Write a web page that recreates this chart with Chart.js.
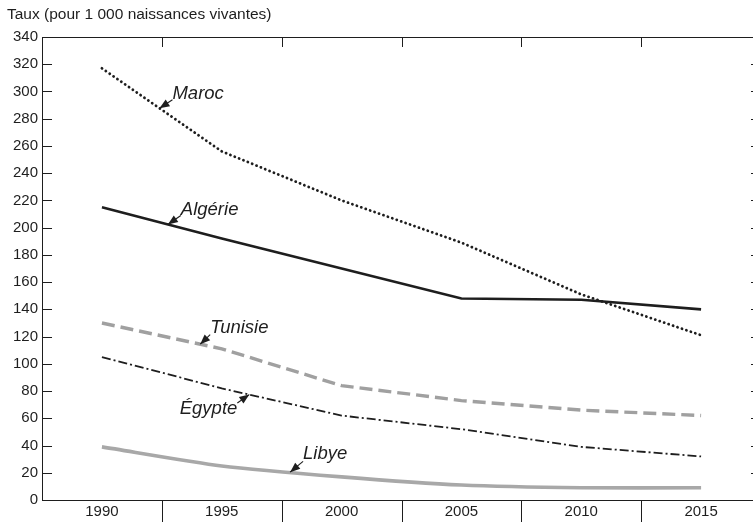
<!DOCTYPE html>
<html><head><meta charset="utf-8">
<script src="https://cdn.jsdelivr.net/npm/chart.js@4"></script>
<style>
html,body{margin:0;padding:0;background:#fff;overflow:hidden;}
#wrap{width:775px;height:522px;position:relative;}
</style></head>
<body><div id="wrap"><canvas id="c"></canvas></div>
<script>
const years = ['1990','1995','2000','2005','2010','2015'];
const maroc   = [317, 256, 220, 189, 151, 121];
const algerie = [215, 192, 170, 148, 147, 140];
const tunisie = [130, 111, 84, 73, 66, 62];
const egypte  = [105, 82, 62, 52, 39, 32];
const libye   = [39, 25, 17, 11, 9, 9];
const yMin = 0, yMax = 340, yStep = 20;
const title = 'Taux (pour 1 000 naissances vivantes)';
// annotation: series index, fractional category index for arrow tip
const labels = [
  {text:'Maroc',   ds:0, at:0.48, dx:13, dy:-14, align:'left'},
  {text:'Algérie', ds:1, at:0.55, dx:13, dy:-15, align:'left'},
  {text:'Tunisie', ds:2, at:0.82, dx:10, dy:-16, align:'left'},
  {text:'Égypte',  ds:3, at:1.23, dx:-12, dy:14, align:'right'},
  {text:'Libye',   ds:4, at:1.57, dx:13, dy:-18, align:'left'}
];
const INK = '#1e1e1e';
const FONT = '"Liberation Sans", Arial, sans-serif';

const framePlugin = {
  id:'frame',
  afterDraw(chart){
    const {ctx, chartArea:a, scales} = chart;
    const x = scales.x, y = scales.y;
    ctx.save();
    ctx.strokeStyle = INK; ctx.lineWidth = 1;
    ctx.strokeRect(Math.round(a.left)+0.5, Math.round(a.top)+0.5, Math.round(a.right-a.left), Math.round(a.bottom-a.top));
    ctx.beginPath();
    y.ticks.forEach(t=>{
      const py = Math.round(y.getPixelForValue(t.value))+0.5;
      ctx.moveTo(a.left, py); ctx.lineTo(a.left+10, py);
      ctx.moveTo(a.right, py); ctx.lineTo(a.right-10, py);
    });
    const n = years.length;
    for(let i=1;i<n;i++){
      const px = Math.round((x.getPixelForValue(i-1)+x.getPixelForValue(i))/2)+0.5;
      ctx.moveTo(px, a.top); ctx.lineTo(px, a.top+10);
      ctx.moveTo(px, a.bottom); ctx.lineTo(px, a.bottom+30);
    }
    ctx.stroke();
    // title
    ctx.fillStyle = INK; ctx.font = '15.5px '+FONT; ctx.textBaseline='middle'; ctx.textAlign='left';
    ctx.fillText(title, 7, 15);
    // annotations
    ctx.font = 'italic 18.5px '+FONT;
    labels.forEach(l=>{
      const data = chart.data.datasets[l.ds].data;
      const i0 = Math.floor(l.at), f = l.at - i0;
      const v = data[i0] + (data[i0+1]-data[i0])*f;
      const tx = x.getPixelForValue(i0) + (x.getPixelForValue(i0+1)-x.getPixelForValue(i0))*f;
      const ty = y.getPixelForValue(v);
      const sx = tx + l.dx, sy = ty + l.dy*0.6;
      ctx.strokeStyle = INK; ctx.lineWidth = 1.1;
      ctx.beginPath(); ctx.moveTo(sx, sy); ctx.lineTo(tx, ty); ctx.stroke();
      const ang = Math.atan2(ty-sy, tx-sx);
      const L = 10, W = 4;
      ctx.beginPath();
      ctx.moveTo(tx, ty);
      ctx.lineTo(tx - L*Math.cos(ang) + W*Math.sin(ang), ty - L*Math.sin(ang) - W*Math.cos(ang));
      ctx.lineTo(tx - L*Math.cos(ang) - W*Math.sin(ang), ty - L*Math.sin(ang) + W*Math.cos(ang));
      ctx.closePath(); ctx.fill();
      ctx.textAlign = l.align;
      ctx.fillText(l.text, tx + l.dx, ty + l.dy);
    });
    ctx.restore();
  }
};

new Chart(document.getElementById('c'), {
  type:'line',
  data:{
    labels: years,
    datasets:[
      {label:'Maroc', data:maroc, borderColor:INK, borderWidth:2.8, borderDash:[0.1,4.6], borderCapStyle:'round', pointRadius:0, fill:false},
      {label:'Algérie', data:algerie, borderColor:INK, borderWidth:2.6, pointRadius:0, fill:false},
      {label:'Tunisie', data:tunisie, borderColor:'#a0a0a0', borderWidth:3.4, borderDash:[13,6], pointRadius:0, fill:false},
      {label:'Égypte', data:egypte, borderColor:INK, borderWidth:1.8, borderDash:[9,3,2,3], pointRadius:0, fill:false},
      {label:'Libye', data:libye, borderColor:'#a8a8a8', borderWidth:3.6, tension:0.25, pointRadius:0, fill:false}
    ]
  },
  options:{
    responsive:true, maintainAspectRatio:false, animation:false,
    layout:{padding:{top:37, left:9, right:14, bottom:-2}},
    plugins:{legend:{display:false}, tooltip:{enabled:false}, title:{display:false}},
    scales:{
      x:{type:'category', offset:true,
         grid:{display:false, drawTicks:false}, border:{display:false},
         ticks:{color:INK, font:{family:FONT, size:15}, padding:3, maxRotation:0}},
      y:{min:yMin, max:yMax,
         grid:{display:false, drawTicks:false}, border:{display:false},
         ticks:{stepSize:yStep, color:INK, font:{family:FONT, size:15}, padding:4}}
    }
  },
  plugins:[framePlugin]
});
</script></body></html>
